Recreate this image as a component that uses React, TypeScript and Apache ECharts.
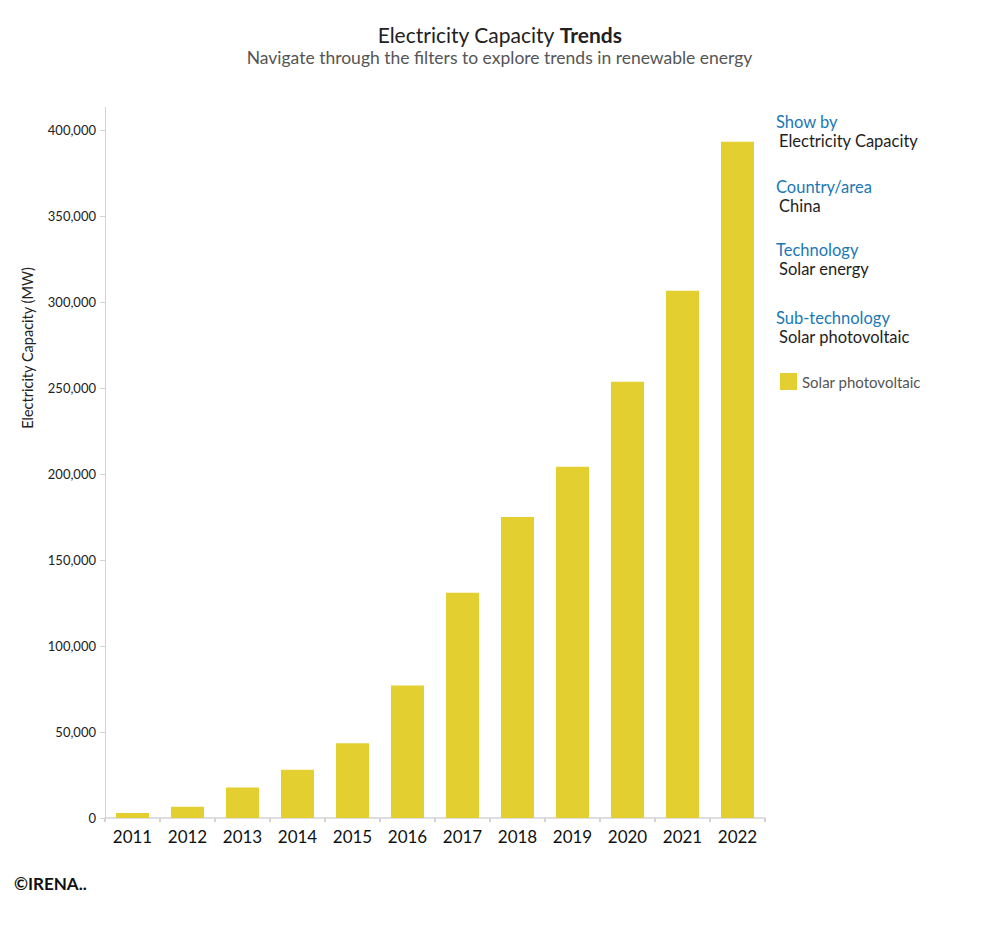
import React, { useEffect, useRef } from "react";
import * as echarts from "echarts";

const years = ["2011", "2012", "2013", "2014", "2015", "2016", "2017", "2018", "2019", "2020", "2021", "2022"];
const solarPV = [2900, 6500, 17700, 28000, 43500, 77000, 130900, 175000, 204200, 253600, 306600, 393100];
const filterHeads = ["Show by", "Country/area", "Technology", "Sub-technology"];
const filterValues = ["Electricity Capacity", "China", "Solar energy", "Solar photovoltaic"];
const seriesName = "Solar photovoltaic";

const FONT = "Lato, 'Open Sans', sans-serif";

export default function App() {
  const ref = useRef<HTMLDivElement>(null);
  useEffect(() => {
    document.body.style.margin = "0";
    const chart = echarts.init(ref.current!, null, { renderer: "svg" });
    const headY = [122, 187, 250, 318];
    const graphics: any[] = [];
    filterHeads.forEach((h, i) => {
      graphics.push({
        type: "text",
        x: 776,
        y: headY[i],
        style: { text: h, fill: "#1a78b4", font: `16.5px ${FONT}`, verticalAlign: "middle", lineHeight: 16 },
      });
      graphics.push({
        type: "text",
        x: 779,
        y: headY[i] + 19,
        style: { text: filterValues[i], fill: "#1e1e1e", font: `16.5px ${FONT}`, verticalAlign: "middle", lineHeight: 16 },
      });
    });
    graphics.push({
      type: "text",
      left: 14,
      top: 875,
      style: { text: "©IRENA..", fill: "#111", font: `bold 17px ${FONT}` },
    });
    graphics.push({
      type: "text",
      x: 27,
      y: 348,
      rotation: Math.PI / 2,
      style: {
        text: "Electricity Capacity (MW)",
        fill: "#222",
        font: `14.5px ${FONT}`,
        align: "center",
        verticalAlign: "middle",
      },
    });
    graphics.push({
      type: "line",
      shape: { x1: 105.5, y1: 107, x2: 105.5, y2: 131 },
      style: { stroke: "#d3d3d3", lineWidth: 1 },
    });
    chart.setOption({
      animation: false,
      title: {
        text: "{a|Electricity Capacity }{b|Trends}",
        subtext: "Navigate through the filters to explore trends in renewable energy",
        left: "center",
        top: 19,
        itemGap: 3,
        textStyle: {
          fontWeight: "normal",
          rich: {
            a: { fontSize: 21, color: "#222", fontWeight: "normal", fontFamily: FONT },
            b: { fontSize: 21, color: "#222", fontWeight: "bold", fontFamily: FONT },
          },
        },
        subtextStyle: { fontSize: 17.5, color: "#555", fontFamily: FONT },
      },
      legend: {
        left: 775,
        top: 368,
        icon: "rect",
        itemWidth: 17,
        itemHeight: 17,
        itemGap: 6,
        textStyle: { fontSize: 15, color: "#555", fontFamily: FONT },
        data: [seriesName],
      },
      grid: { left: 105, right: 234, top: 130, bottom: 118, containLabel: false },
      xAxis: {
        type: "category",
        data: years,
        axisLine: { lineStyle: { color: "#d3d3d3", width: 1.5 } },
        axisTick: { show: true, length: 4, lineStyle: { color: "#d3d3d3", width: 2 } },
        axisLabel: { fontSize: 17, color: "#111", margin: 10, fontFamily: FONT },
      },
      yAxis: {
        type: "value",
        min: 0,
        max: 400000,
        interval: 50000,
        axisLine: { show: true, lineStyle: { color: "#d3d3d3" } },
        axisTick: { show: true, length: 5, lineStyle: { color: "#d3d3d3" } },
        splitLine: { show: false },
        axisLabel: {
          fontSize: 13,
          color: "#222",
          margin: 9,
          fontFamily: FONT,
          formatter: (v: number) => v.toLocaleString("en-US"),
        },
      },
      series: [
        {
          name: seriesName,
          type: "bar",
          data: solarPV,
          barWidth: 33,
          itemStyle: { color: "#e4cf30" },
        },
      ],
      graphic: graphics,
    });
    return () => chart.dispose();
  }, []);
  return <div ref={ref} style={{ width: 999, height: 936 }} />;
}
